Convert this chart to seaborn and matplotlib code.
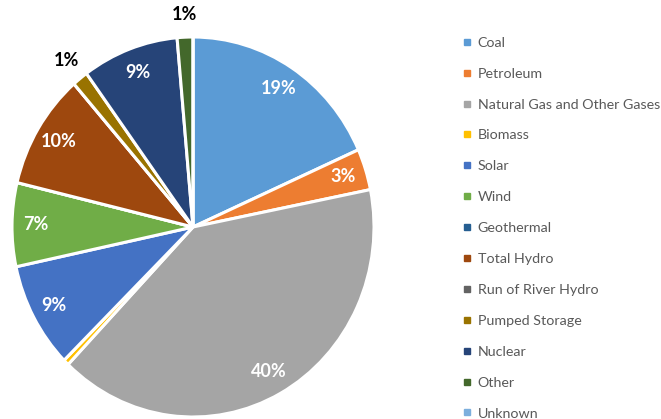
import matplotlib
matplotlib.use("Agg")
import numpy as np
import seaborn as sns
import matplotlib.pyplot as plt
from matplotlib.lines import Line2D

categories = ["Coal", "Petroleum", "Natural Gas and Other Gases", "Biomass", "Solar",
              "Wind", "Geothermal", "Total Hydro", "Run of River Hydro", "Pumped Storage",
              "Nuclear", "Other", "Unknown"]
shares = [18.3, 3.5, 40.2, 0.5, 9.0, 7.1, 0.0, 9.8, 0.0, 1.4, 8.6, 1.4, 0.0]
pct_labels = ["19%", "3%", "40%", "", "9%", "7%", "", "10%", "", "1%", "9%", "1%", ""]
outside = [False, False, False, False, False, False, False, False, False, True, False, True, False]
colors = ["#5B9BD5", "#ED7D31", "#A5A5A5", "#FFC000", "#4472C4", "#70AD47", "#255E91",
          "#9E480E", "#636363", "#997300", "#264478", "#43682B", "#7CAFDD"]

sns.set_theme(style="white")
plt.rcParams["font.family"] = ["Lato", "DejaVu Sans"]
palette = sns.color_palette(colors)

fig = plt.figure(figsize=(6.61, 4.19), dpi=100)
ax = fig.add_axes([12 / 661, 2 / 419, 362 / 661, 380 / 419])

wedges, _ = ax.pie(shares, colors=palette, startangle=90, counterclock=False,
                   wedgeprops=dict(edgecolor="white", linewidth=2.2))
ax.set_aspect("auto")
ax.set_xlim(-1, 1)
ax.set_ylim(-1, 1)
ax.axis("off")

for w, lab, out in zip(wedges, pct_labels, outside):
    if not lab:
        continue
    mid = np.deg2rad((w.theta1 + w.theta2) / 2)
    r = 1.12 if out else 0.87
    ax.text(r * np.cos(mid), r * np.sin(mid), lab, ha="center", va="center",
            fontsize=13, fontweight="bold", color="black" if out else "white",
            clip_on=False)

handles = [Line2D([], [], marker="s", linestyle="none", markersize=5,
                  markerfacecolor=c, markeredgecolor=c) for c in palette]
fig.legend(handles, categories, loc="upper left", bbox_to_anchor=(457 / 661, 1 - 31 / 419),
           frameon=False, fontsize=10.3, labelspacing=1.32, handlelength=0.6,
           handletextpad=0.45, labelcolor="#595959", borderaxespad=0)

fig.savefig("out.png", dpi=100)
